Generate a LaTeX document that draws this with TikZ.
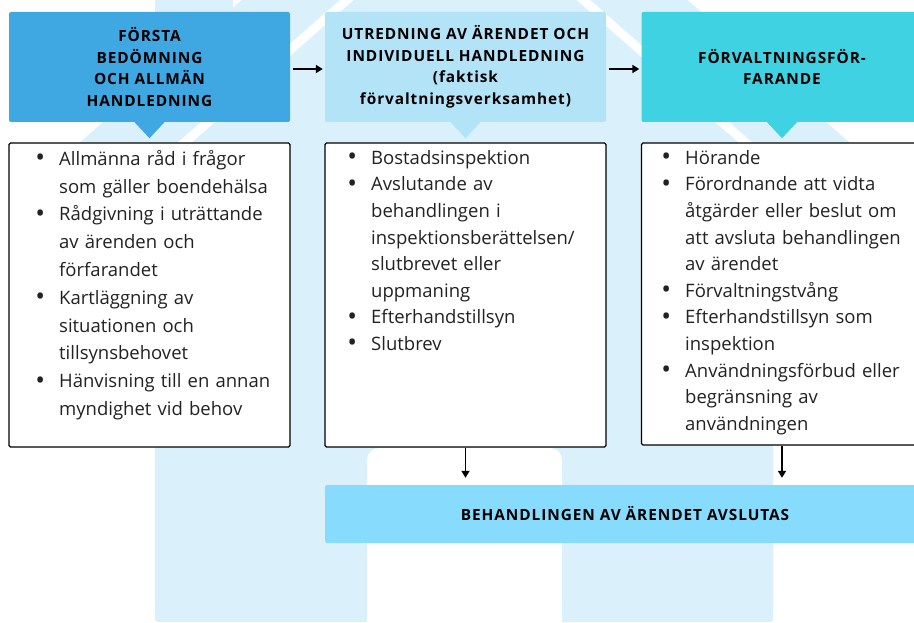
\documentclass[tikz,border=0pt]{standalone}
\usepackage{fontspec}
\setmainfont{Open Sans}
\newfontfamily\headfont[LetterSpace=6.0]{Open Sans Bold}
\usetikzlibrary{positioning,arrows.meta}

\definecolor{housebg}{HTML}{DAF1FB}
\definecolor{headone}{HTML}{3FA7E1}
\definecolor{headtwo}{HTML}{B3E3F7}
\definecolor{headthree}{HTML}{3ED2E2}
\definecolor{endbox}{HTML}{87DBFD}
\definecolor{bodytext}{HTML}{222222}

\tikzset{
  headbox/.style = {rounded corners=2pt, minimum width=281pt, minimum height=110pt,
    inner sep=0pt, align=center, font=\headfont\fontsize{15.4}{21.5}\selectfont},
  listbox/.style = {draw=black, line width=1.1pt, rounded corners=1.5pt, fill=white,
    minimum width=281pt, inner sep=0pt},
  listtext/.style = {text width=240pt, align=left, inner sep=0pt, text=bodytext,
    font=\fontsize{18.5}{27.8}\selectfont},
  tightlist/.style = {listtext, font=\fontsize{18.5}{26.6}\selectfont},
  flow/.style = {-{Triangle[length=7pt,width=8pt]}, line width=1.8pt},
}

\newcommand{\bul}{\makebox[0pt][r]{{\fontsize{26}{0}\selectfont\raisebox{-1.5pt}{\textbullet}}\hspace{14pt}}}

\begin{document}
\begin{tikzpicture}[x=1pt, y=-1pt]
  \useasboundingbox (0,0) rectangle (914,623);

  % house in the background
  \fill[housebg] (155,-10) rectangle (233,80);
  \fill[housebg] (12,202) -- (465,-196) -- (925,209) -- (925,294) -- (465,-110) -- (12,288) -- cycle;
  \fill[housebg, rounded corners=3pt] (155,622) -- (155,175) -- (465,-98) -- (773,173) -- (773,622) -- cycle;
  \fill[white, rounded corners=12pt] (367,630) -- (367,448) -- (562,448) -- (562,630);

  % headers
  \node[headbox, fill=headone] (h1) at (149.5,67) {FÖRSTA\\BEDÖMNING\\OCH ALLMÄN\\HANDLEDNING};
  \node[headbox, fill=headtwo] (h2) at (465.5,67) {UTREDNING AV ÄRENDET OCH\\INDIVIDUELL HANDLEDNING\\(faktisk\\förvaltningsverksamhet)};
  \node[headbox, fill=headthree] (h3) at (782,67) {FÖRVALTNINGSFÖR-\\FARANDE};
  \foreach \h/\c in {h1/headone, h2/headtwo, h3/headthree}
    \fill[\c] ([xshift=-15pt]\h.south) -- ([xshift=15pt]\h.south) -- ([yshift=-16pt]\h.south) -- cycle;

  % lists
  \node[listbox, minimum height=304pt] (l1) at (149.5,295) {};
  \node[listbox, minimum height=304pt] (l2) at (465.5,295) {};
  \node[listbox, minimum height=302pt] (l3) at (782,294) {};

  \node[listtext, anchor=north west] (t1) at (59,150) {%
    \bul Allmänna råd i frågor\\ som gäller boendehälsa\\
    \bul Rådgivning i uträttande\\ av ärenden och\\ förfarandet\\
    \bul Kartläggning av\\ situationen och\\ tillsynsbehovet\\
    \bul Hänvisning till en annan\\ myndighet vid behov};
  \node[tightlist, anchor=north west] (t2) at (371,150) {%
    \bul Bostadsinspektion\\
    \bul Avslutande av\\ behandlingen i\\ inspektionsberättelsen/\\ slutbrevet eller\\ uppmaning\\
    \bul Efterhandstillsyn\\
    \bul Slutbrev};
  \node[tightlist, anchor=north west] (t3) at (685,150) {%
    \bul Hörande\\
    \bul Förordnande att vidta\\ åtgärder eller beslut om\\ att avsluta behandlingen\\ av ärendet\\
    \bul Förvaltningstvång\\
    \bul Efterhandstillsyn som\\ inspektion\\
    \bul Användningsförbud eller\\ begränsning av\\ användningen};

  % end
  \node[headbox, fill=endbox, minimum width=600pt, minimum height=58pt] (end) at (625,514)
    {BEHANDLINGEN AV ÄRENDET AVSLUTAS};

  % arrows
  \draw[flow, shorten <=3pt, shorten >=2pt] ([yshift=-2pt]h1.east) -- ([yshift=-2pt]h2.west);
  \draw[flow, shorten <=3pt, shorten >=2pt] ([yshift=-2pt]h2.east) -- ([yshift=-2pt]h3.west);
  \draw[flow, shorten >=7pt] (l2.south) -- (l2.south |- end.north);
  \draw[flow, shorten >=7pt] (l3.south) -- (l3.south |- end.north);
\end{tikzpicture}
\end{document}
